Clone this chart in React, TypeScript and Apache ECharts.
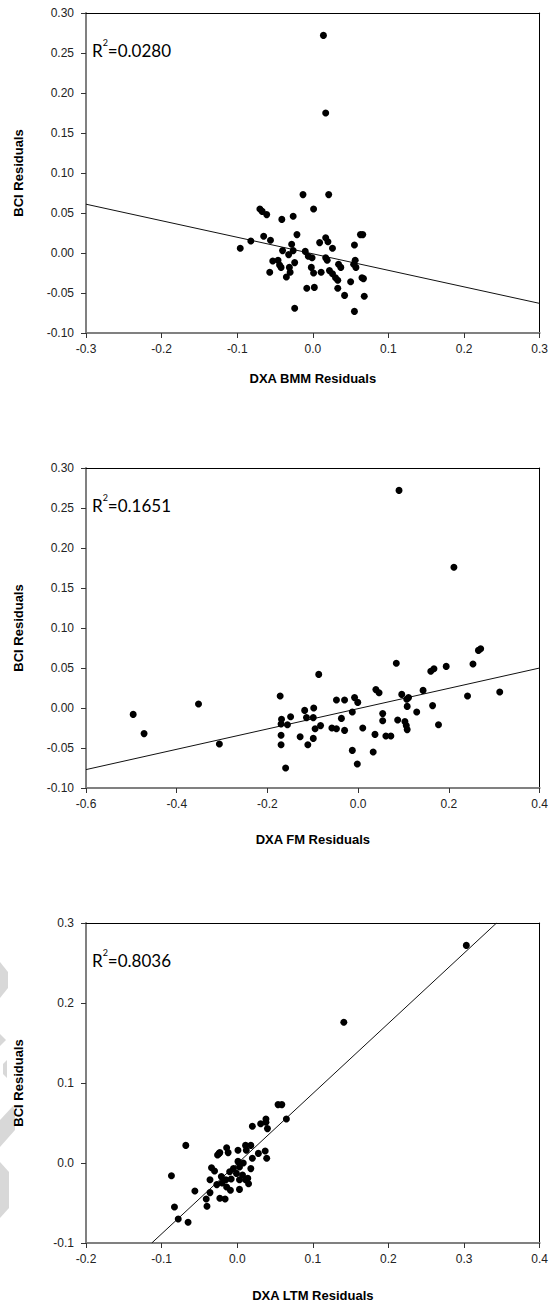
import React, { useEffect, useRef } from "react";
import * as echarts from "echarts";

// ---- data ----
const bmmPoints: number[][] = [
  [0.014, 0.272], [0.017, 0.175], [-0.013, 0.073], [0.021, 0.073],
  [-0.070, 0.055], [-0.067, 0.052], [-0.061, 0.048], [0.001, 0.055],
  [-0.041, 0.042], [-0.026, 0.046],
  [-0.096, 0.006], [-0.082, 0.015], [-0.065, 0.021], [-0.056, 0.016],
  [-0.021, 0.023], [-0.028, 0.011], [-0.040, 0.003], [-0.026, 0.003],
  [-0.032, -0.002], [-0.010, 0.002], [-0.006, -0.004], [-0.001, -0.006],
  [0.009, 0.013], [0.017, 0.019], [0.020, 0.014], [0.026, 0.006],
  [0.017, -0.006], [0.019, -0.009], [0.055, 0.010], [0.063, 0.023],
  [0.066, 0.023], [0.056, -0.009], [0.057, -0.018], [0.054, -0.014],
  [-0.053, -0.010], [-0.046, -0.009], [-0.044, -0.015], [-0.042, -0.018],
  [-0.057, -0.024], [-0.031, -0.018], [-0.024, -0.012], [-0.030, -0.024],
  [-0.035, -0.030], [-0.002, -0.018], [0.001, -0.025], [0.011, -0.024],
  [0.022, -0.022], [0.026, -0.026], [0.030, -0.031], [0.034, -0.014],
  [0.037, -0.018], [0.033, -0.034], [0.050, -0.036], [0.065, -0.031],
  [0.067, -0.032], [-0.008, -0.044], [0.002, -0.043], [0.033, -0.044],
  [0.042, -0.053], [0.068, -0.054], [-0.024, -0.069], [0.055, -0.073],
];

const fmPoints: number[][] = [
  [-0.496, -0.008], [-0.472, -0.032], [-0.352, 0.005], [-0.306, -0.045],
  [-0.172, 0.015], [-0.169, -0.014], [-0.170, -0.020], [-0.156, -0.021],
  [-0.170, -0.034], [-0.170, -0.046], [-0.160, -0.075], [-0.149, -0.011],
  [-0.118, -0.003], [-0.114, -0.012], [-0.098, 0.000], [-0.099, -0.012],
  [-0.087, 0.042], [-0.095, -0.026], [-0.083, -0.022], [-0.128, -0.036],
  [-0.111, -0.046], [-0.099, -0.038],
  [-0.058, -0.025], [-0.048, -0.026], [-0.030, -0.028], [-0.048, 0.010],
  [-0.030, 0.010], [-0.008, 0.013], [-0.001, 0.007], [-0.013, -0.005],
  [-0.037, -0.013], [0.010, -0.025], [0.037, -0.033], [0.061, -0.035],
  [0.072, -0.035], [0.054, -0.007], [0.054, -0.016], [-0.013, -0.053],
  [0.033, -0.055], [-0.002, -0.070], [0.039, 0.023], [0.046, 0.019],
  [0.084, 0.056], [0.160, 0.046], [0.167, 0.049], [0.194, 0.052],
  [0.253, 0.055], [0.270, 0.074], [0.265, 0.072], [0.312, 0.020],
  [0.241, 0.015], [0.143, 0.022], [0.096, 0.017], [0.111, 0.013],
  [0.107, 0.011], [0.108, 0.002], [0.129, -0.005], [0.164, 0.003],
  [0.177, -0.021], [0.087, -0.015], [0.103, -0.017], [0.106, -0.022],
  [0.108, -0.027], [0.090, 0.272], [0.211, 0.176],
];

const ltmPoints: number[][] = [
  [-0.068, 0.022], [-0.087, -0.016], [-0.083, -0.055], [-0.078, -0.070],
  [-0.065, -0.074], [-0.056, -0.035], [-0.041, -0.045], [-0.040, -0.054],
  [-0.036, -0.037], [-0.036, -0.021], [-0.034, -0.006], [-0.030, -0.010],
  [-0.023, -0.044], [-0.016, -0.045], [-0.026, 0.010], [-0.023, 0.013],
  [-0.024, 0.012], [-0.014, 0.019], [-0.012, 0.013], [0.001, 0.016],
  [0.011, 0.022], [0.018, 0.022], [0.012, 0.016], [0.020, 0.046],
  [0.031, 0.049], [0.038, 0.055], [0.038, 0.051], [0.040, 0.043],
  [0.065, 0.055], [0.054, 0.073], [0.059, 0.073], [0.028, 0.012],
  [0.037, 0.015], [0.039, 0.006], [0.020, 0.006], [0.018, -0.007],
  [0.008, 0.000], [0.001, 0.002], [0.003, -0.005], [-0.005, -0.007],
  [-0.010, -0.011], [-0.001, -0.013], [0.007, -0.015], [0.014, -0.019],
  [0.003, -0.021], [-0.008, -0.020], [-0.015, -0.021], [-0.021, -0.017],
  [-0.020, -0.025], [-0.014, -0.030], [-0.027, -0.027], [-0.009, -0.034],
  [0.003, -0.033], [0.011, -0.021], [0.015, -0.026], [0.141, 0.176],
  [0.303, 0.272],
];

const bmmFit: number[][] = [[-0.3, 0.061], [0.3, -0.063]];
const fmFit: number[][] = [[-0.6, -0.077], [0.4, 0.050]];
const ltmFit: number[][] = [[-0.113, -0.1], [0.343, 0.3]];

const xTitles = ["DXA BMM Residuals", "DXA FM Residuals", "DXA LTM Residuals"];
const yTitle = "BCI Residuals";
const r2Labels = ["0.0280", "0.1651", "0.8036"];
const xMins = [-0.3, -0.6, -0.2];
const xMaxs = [0.3, 0.4, 0.4];
const xSteps = [0.1, 0.2, 0.1];
const yMins = [-0.1, -0.1, -0.1];
const yMaxs = [0.3, 0.3, 0.3];
const ySteps = [0.05, 0.05, 0.1];
const yDecimals = [2, 2, 1];

const pointSets = [bmmPoints, fmPoints, ltmPoints];
const fitSets = [bmmFit, fmFit, ltmFit];

// ---- layout ----
const GRID_LEFT = 86;
const GRID_W = 455;
const GRID_H = 320;
const GRID_TOPS = [13, 468, 923];
const X_NAME_GAPS = [39, 45, 46];

const watermark: number[][][] = [
  [[0, 962], [8, 972], [8, 988], [0, 998]],
  [[0, 1034], [6, 1040], [0, 1046]],
  [[3, 1064], [7, 1060], [7, 1078], [3, 1074]],
  [[0, 1120], [13, 1106], [15, 1112], [15, 1130], [0, 1147]],
  [[0, 1162], [9, 1172], [9, 1208], [0, 1218]],
];

export default function App() {
  const ref = useRef<HTMLDivElement>(null);
  useEffect(() => {
    if (!ref.current) return;
    const chart = echarts.init(ref.current, null, { renderer: "svg" });
    const grids: any[] = [];
    const xAxes: any[] = [];
    const yAxes: any[] = [];
    const series: any[] = [];
    const graphics: any[] = [];
    const tickFont = { fontFamily: "Liberation Sans, Arial, sans-serif", fontSize: 12, color: "#222" };
    const titleFont = { fontFamily: "Liberation Sans, Arial, sans-serif", fontSize: 13, fontWeight: "bold", color: "#000" };
    for (let i = 0; i < 3; i++) {
      grids.push({ left: GRID_LEFT, top: GRID_TOPS[i], width: GRID_W, height: GRID_H, containLabel: false });
      const dec = yDecimals[i];
      xAxes.push({
        type: "value", gridIndex: i, position: "bottom",
        min: xMins[i], max: xMaxs[i], interval: xSteps[i],
        name: xTitles[i], nameLocation: "middle", nameGap: X_NAME_GAPS[i],
        nameTextStyle: titleFont,
        axisLine: { show: true, onZero: false, lineStyle: { color: "#808080", width: 2 } },
        axisTick: { show: true, inside: false, length: 5, lineStyle: { color: "#333", width: 1 } },
        axisLabel: { ...tickFont, margin: 10, formatter: (v: number) => v.toFixed(1) },
        splitLine: { show: false },
      });
      xAxes.push({
        type: "value", gridIndex: i, position: "top",
        min: xMins[i], max: xMaxs[i], interval: xSteps[i],
        axisLine: { show: true, onZero: false, lineStyle: { color: "#000", width: 1 } },
        axisTick: { show: false }, axisLabel: { show: false }, splitLine: { show: false },
      });
      yAxes.push({
        type: "value", gridIndex: i, position: "left",
        min: yMins[i], max: yMaxs[i], interval: ySteps[i],
        name: yTitle, nameLocation: "middle", nameGap: 61, nameRotate: 90,
        nameTextStyle: titleFont,
        axisLine: { show: true, onZero: false, lineStyle: { color: "#808080", width: 2 } },
        axisTick: { show: true, inside: false, length: 5, lineStyle: { color: "#333", width: 1 } },
        axisLabel: { ...tickFont, margin: 12, formatter: (v: number) => v.toFixed(dec) },
        splitLine: { show: false },
      });
      yAxes.push({
        type: "value", gridIndex: i, position: "right",
        min: yMins[i], max: yMaxs[i], interval: ySteps[i],
        axisLine: { show: true, onZero: false, lineStyle: { color: "#000", width: 1 } },
        axisTick: { show: false }, axisLabel: { show: false }, splitLine: { show: false },
      });
      series.push({
        type: "line", xAxisIndex: 2 * i, yAxisIndex: 2 * i,
        data: fitSets[i], symbol: "none", silent: true,
        lineStyle: { color: "#111", width: 1 }, z: 2,
      });
      series.push({
        type: "scatter", xAxisIndex: 2 * i, yAxisIndex: 2 * i,
        data: pointSets[i], symbol: "circle", symbolSize: 7,
        itemStyle: { color: "#000", opacity: 1 }, z: 3,
      });
      graphics.push({
        type: "text", left: GRID_LEFT + 6, top: GRID_TOPS[i] + 24,
        style: {
          text: "{r|R}{s|2}{r|=" + r2Labels[i] + "}",
          rich: {
            r: { fontFamily: "Lato", fontSize: 17, fill: "#000", lineHeight: 22, verticalAlign: "bottom" },
            s: { fontFamily: "Lato", fontSize: 9, fill: "#000", lineHeight: 22, verticalAlign: "top", padding: [1, 0, 0, 0] },
          },
        },
      });
    }
    watermark.forEach((pts) => {
      graphics.push({ type: "polygon", shape: { points: pts }, style: { fill: "#d8d8d8" }, z: 0 });
    });
    chart.setOption({
      animation: false,
      backgroundColor: "#fff",
      grid: grids,
      xAxis: xAxes,
      yAxis: yAxes,
      series,
      graphic: graphics,
    });
    return () => chart.dispose();
  }, []);
  return (
    <div
      ref={ref}
      style={{ position: "absolute", left: 0, top: 0, width: 551, height: 1306 }}
    />
  );
}
